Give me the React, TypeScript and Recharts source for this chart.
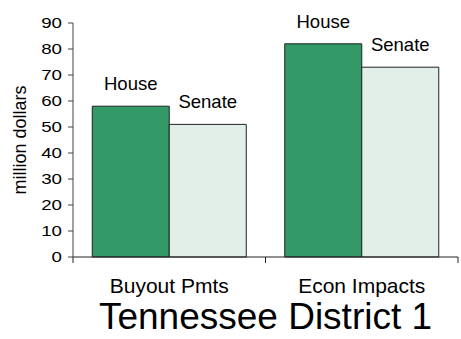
import React from 'react';
import { BarChart, Bar, XAxis, YAxis, LabelList } from 'recharts';

const categories = ['Buyout Pmts', 'Econ Impacts'];
const seriesNames = ['House', 'Senate'];
const houseValues = [58, 82];
const senateValues = [51, 73];
const yTicks = [0, 10, 20, 30, 40, 50, 60, 70, 80, 90];
const chartTitle = 'Tennessee District 1';
const yLabel = 'million dollars';

const data = categories.map((c, i) => ({
  category: c,
  [seriesNames[0]]: houseValues[i],
  [seriesNames[1]]: senateValues[i],
}));

const FONT = '"Liberation Sans", Arial, sans-serif';
const X_TICK_MARGIN = 21;

const YTick = (props: any) => {
  const { x, y, payload } = props;
  return (
    <g transform={`translate(${x},${y})`}>
      <text
        transform="scale(1.25,1)"
        textAnchor="end"
        dy="0.355em"
        fontSize={15}
        fontFamily={FONT}
        fill="#000"
      >
        {payload.value}
      </text>
    </g>
  );
};

const XTick = (props: any) => {
  const { x, y, payload, width, visibleTicksCount } = props;
  const half = width && visibleTicksCount ? width / visibleTicksCount / 2 : payload.offset || 0;
  const axisY = y - X_TICK_MARGIN;
  return (
    <g>
      <line x1={x - half} y1={axisY} x2={x - half} y2={axisY + 6} stroke="#222" />
      <line x1={x + half} y1={axisY} x2={x + half} y2={axisY + 6} stroke="#222" />
      <text x={x} y={y} dy="0.71em" textAnchor="middle" fontSize={21} fontFamily={FONT} fill="#000">
        {payload.value}
      </text>
    </g>
  );
};

const colors = ['#339966', '#E2EFE8'];

export default function App() {
  return (
    <div style={{ position: 'absolute', left: 0, top: 0, width: 461, height: 339, background: '#fff' }}>
      <BarChart
        width={461}
        height={339}
        data={data}
        margin={{ top: 23, right: 3, left: 0, bottom: 0 }}
        barCategoryGap="10%"
        barGap={0}
      >
        <XAxis
          dataKey="category"
          height={82}
          axisLine={{ stroke: '#222' }}
          tickLine={false}
          tickSize={0}
          tickMargin={X_TICK_MARGIN}
          tick={<XTick />}
          interval={0}
          label={{
            value: chartTitle,
            position: 'insideBottom',
            offset: 10,
            style: { fontSize: 37, fontFamily: FONT, fill: '#000' },
          }}
        />
        <YAxis
          width={73}
          domain={[0, 90]}
          ticks={yTicks}
          interval={0}
          tickSize={5}
          tickMargin={6}
          axisLine={{ stroke: '#444' }}
          tickLine={{ stroke: '#444' }}
          tick={<YTick />}
          label={{
            value: yLabel,
            angle: -90,
            position: 'insideLeft',
            offset: 19.5,
            style: { textAnchor: 'middle', fontSize: 18, fontFamily: FONT, fill: '#000' },
          }}
        />
        {seriesNames.map((name, i) => (
          <Bar
            key={name}
            dataKey={name}
            fill={colors[i]}
            stroke="#222"
            strokeWidth={1}
            isAnimationActive={false}
          >
            <LabelList
              dataKey={name}
              position="top"
              offset={16}
              formatter={() => name}
              style={{ fontSize: 18.5, fontFamily: FONT, fill: '#000' }}
            />
          </Bar>
        ))}
      </BarChart>
    </div>
  );
}
